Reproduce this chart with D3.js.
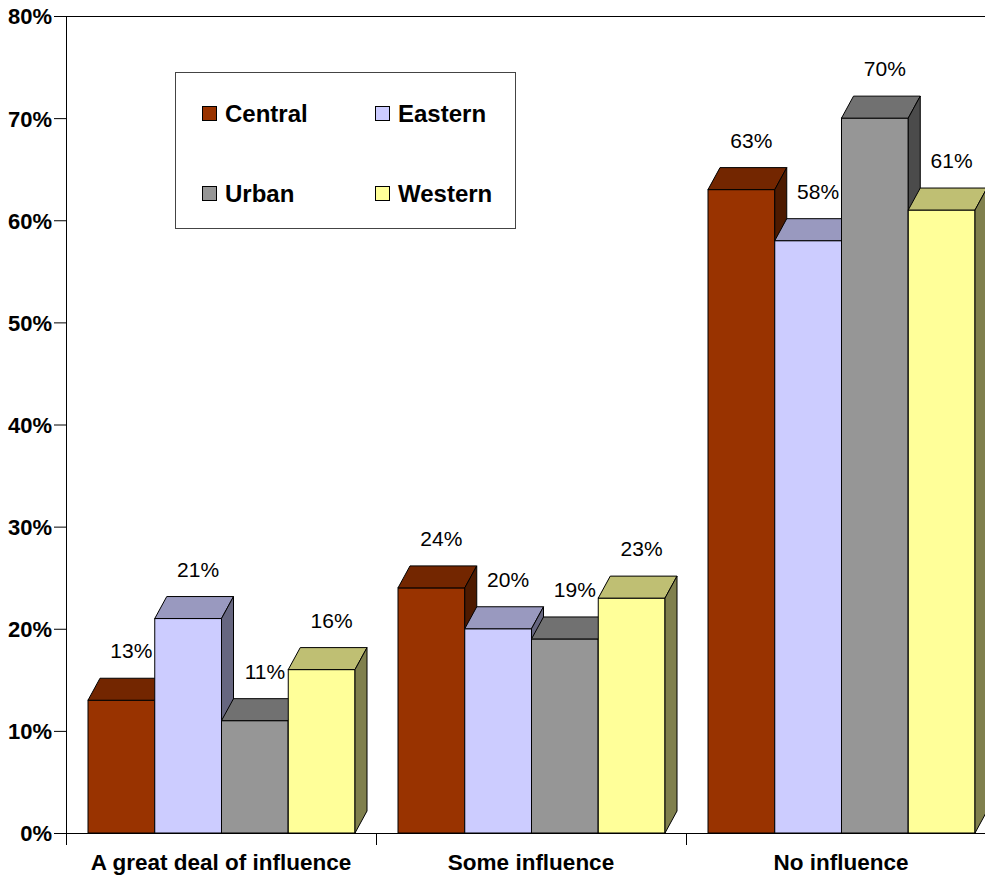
<!DOCTYPE html>
<html>
<head>
<meta charset="utf-8">
<script src="https://cdn.jsdelivr.net/npm/d3@7"></script>
<style>
  html, body { margin: 0; padding: 0; background: #fff; }
  svg { display: block; font-family: Arial, "Liberation Sans", sans-serif; }
</style>
</head>
<body>
<svg id="chart" width="985" height="876"></svg>
<script>
// ---- data ----
const categories = ["A great deal of influence", "Some influence", "No influence"];
const seriesNames = ["Central", "Eastern", "Urban", "Western"];
const central = [0.13, 0.24, 0.63];
const eastern = [0.21, 0.20, 0.58];
const urban   = [0.11, 0.19, 0.70];
const western = [0.16, 0.23, 0.61];
const yTicks = [0, 0.1, 0.2, 0.3, 0.4, 0.5, 0.6, 0.7, 0.8];
const seriesColors = ["#993300", "#CCCCFF", "#969696", "#FFFF99"];

const seriesValues = [central, eastern, urban, western];

(function () {
// ---- layout ----
const svg = d3.select("#chart");
const pLeft = 66, pRight = 996, pTop = 16, pBottom = 833;
const depthX = 12, depthY = 22;

const x0 = d3.scaleBand().domain(categories).range([pLeft, pRight]).padding(0);
const x1 = d3.scaleBand().domain(seriesNames).range([22, 289]).padding(0);
const y = d3.scaleLinear().domain([0, 0.8]).range([pBottom, pTop]);

function shade(c, k) {
  const r = d3.rgb(c);
  return d3.rgb(r.r * k, r.g * k, r.b * k).formatHex();
}

// top back line
svg.append("line")
  .attr("x1", pLeft).attr("x2", 985).attr("y1", y(0.8) + 0.5).attr("y2", y(0.8) + 0.5)
  .attr("stroke", "#000").attr("stroke-width", 1);

// ---- bars ----
const bw = x1.bandwidth();
categories.forEach((cat, ci) => {
  const g = svg.append("g");
  seriesNames.forEach((s, si) => {
    const v = seriesValues[si][ci];
    const xl = x0(cat) + x1(s);
    const xr = xl + bw;
    const yt = y(v), yb = y(0);
    const col = seriesColors[si];
    // front
    g.append("rect")
      .attr("x", xl).attr("y", yt).attr("width", bw).attr("height", yb - yt)
      .attr("fill", col).attr("stroke", "#000").attr("stroke-width", 1);
    // top face
    g.append("path")
      .attr("d", `M${xl},${yt}L${xl + depthX},${yt - depthY}L${xr + depthX},${yt - depthY}L${xr},${yt}Z`)
      .attr("fill", shade(col, 0.75)).attr("stroke", "#000").attr("stroke-width", 1)
      .attr("stroke-linejoin", "round");
    // side face
    g.append("path")
      .attr("d", `M${xr},${yt}L${xr + depthX},${yt - depthY}L${xr + depthX},${yb - depthY}L${xr},${yb}Z`)
      .attr("fill", shade(col, 0.5)).attr("stroke", "#000").attr("stroke-width", 1)
      .attr("stroke-linejoin", "round");
  });
  // value labels
  seriesNames.forEach((s, si) => {
    const v = seriesValues[si][ci];
    const xc = x0(cat) + x1(s) + bw / 2 + 10;
    g.append("text")
      .attr("x", xc).attr("y", y(v) - depthY - 20)
      .attr("text-anchor", "middle")
      .attr("font-size", 21)
      .attr("fill", "#000")
      .text(d3.format(".0%")(v));
  });
});

// ---- axes ----
const yAxis = d3.axisLeft(y).tickValues(yTicks).tickFormat(d3.format(".0%"))
  .tickSize(12).tickSizeOuter(0).tickPadding(2);
const ya = svg.append("g").attr("transform", `translate(${pLeft},0)`).call(yAxis);
ya.selectAll("text").attr("font-size", 22).attr("font-weight", "bold")
  .attr("font-family", "Arial, 'Liberation Sans', sans-serif").attr("fill", "#000")
  .attr("dy", "0.36em");
ya.selectAll("line, path").attr("stroke", "#000");

// baseline
svg.append("line")
  .attr("x1", pLeft).attr("x2", 985).attr("y1", y(0) + 0.5).attr("y2", y(0) + 0.5)
  .attr("stroke", "#000");

// category boundary ticks
const boundaries = categories.map(c => x0(c)).concat([x0(categories[categories.length - 1]) + x0.bandwidth()]);
svg.append("g").selectAll("line").data(boundaries).join("line")
  .attr("x1", d => d + 0.5).attr("x2", d => d + 0.5)
  .attr("y1", y(0)).attr("y2", y(0) + 12)
  .attr("stroke", "#000");

// category labels
const xAxis = d3.axisBottom(x0).tickSize(0).tickPadding(0);
const xa = svg.append("g").attr("transform", `translate(0,${y(0)})`).call(xAxis);
xa.select(".domain").remove();
xa.selectAll("text").attr("font-size", 22.5).attr("font-weight", "bold")
  .attr("font-family", "Arial, 'Liberation Sans', sans-serif").attr("fill", "#000")
  .attr("dy", 0).attr("y", 37);

// ---- legend ----
const lg = svg.append("g");
lg.append("rect").attr("x", 175.5).attr("y", 72.5).attr("width", 340).attr("height", 156)
  .attr("fill", "#fff").attr("stroke", "#444").attr("stroke-width", 1);
const legendPos = [[202, 106], [375, 106], [202, 186], [375, 186]];
seriesNames.forEach((s, i) => {
  const [lx, ly] = legendPos[i];
  lg.append("rect").attr("x", lx + 0.5).attr("y", ly + 0.5).attr("width", 14).attr("height", 14)
    .attr("fill", seriesColors[i]).attr("stroke", "#000");
  lg.append("text").attr("x", lx + 23).attr("y", ly + 15.5)
    .attr("font-size", 24).attr("font-weight", "bold").attr("fill", "#000")
    .text(s);
});
})();
</script>
</body>
</html>
